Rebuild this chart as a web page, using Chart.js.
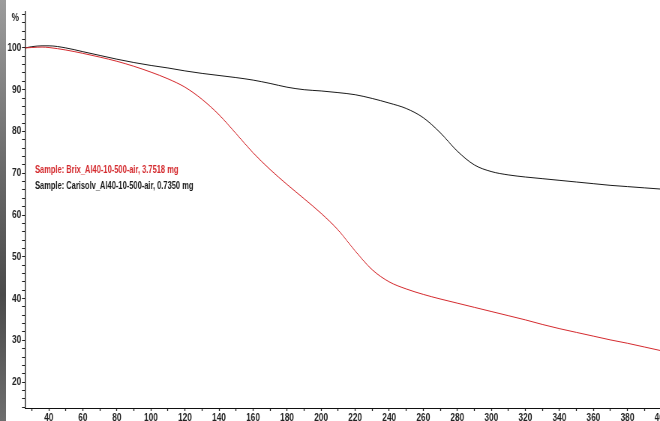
<!DOCTYPE html>
<html>
<head>
<meta charset="utf-8">
<script src="https://cdn.jsdelivr.net/npm/chart.js@4/dist/chart.umd.min.js"></script>
<style>
  html, body { margin: 0; padding: 0; background: #fff; overflow: hidden; width: 660px; height: 421px; }
  #wrap { position: absolute; left: 0; top: 0; width: 882px; height: 421px; transform: scaleX(0.75); transform-origin: 0 0; }
  #bar { position: absolute; left: 0; top: 0; width: 6px; height: 421px;
         background: linear-gradient(to bottom, #9c9c9c 0%, #6a6a6a 40%, #4a4a4a 70%, #6e6e6e 100%); z-index: 2; }
</style>
</head>
<body>
<div id="wrap"><canvas id="c" width="882" height="421"></canvas></div>
<div id="bar"></div>
<script>
const temperatures = [26,30,36,40,50,60,70,80,90,100,110,120,130,140,150,160,170,180,190,200,210,220,230,240,250,260,270,280,290,300,310,320,330,340,350,360,370,380,390,400];
const brixMass = [100.0,100.1,100.2,100.1,99.5,98.7,97.8,96.8,95.6,94.2,92.6,90.6,87.7,84.0,79.5,74.9,70.9,67.3,63.9,60.4,56.4,51.4,46.9,44.0,42.3,41.0,39.9,38.9,37.9,36.9,35.9,34.9,33.8,32.8,31.9,31.0,30.1,29.3,28.4,27.5];
const carisolvMass = [100.0,100.3,100.5,100.5,100.0,99.1,98.2,97.3,96.5,95.8,95.2,94.5,93.9,93.4,92.9,92.3,91.5,90.6,90.0,89.7,89.3,88.8,87.9,86.8,85.5,83.3,79.7,75.3,72.0,70.4,69.6,69.1,68.7,68.3,67.9,67.5,67.1,66.8,66.5,66.2];
const seriesLabels = ["Sample: Brix_Al40-10-500-air, 3.7518 mg", "Sample: Carisolv_Al40-10-500-air, 0.7350 mg"];
const xTickValues = [30,40,50,60,70,80,90,100,110,120,130,140,150,160,170,180,190,200,210,220,230,240,250,260,270,280,290,300,310,320,330,340,350,360,370,380,390,400];
const xLabelValues = [40,60,80,100,120,140,160,180,200,220,240,260,280,300,320,340,360,380,400];
const yTickValues = [14,16,18,20,22,24,26,28,30,32,34,36,38,40,42,44,46,48,50,52,54,56,58,60,62,64,66,68,70,72,74,76,78,80,82,84,86,88,90,92,94,96,98,100,102,104,106,108];
const yLabelValues = [20,30,40,50,60,70,80,90,100];
const yUnit = "%";

const SX = 0.75; // horizontal condensing of the whole canvas (narrow font look)
const FONT = "'Liberation Sans', Arial, sans-serif";

const toPts = (vals) => temperatures.map((t, i) => ({ x: t, y: vals[i] }));

const overlay = {
  id: 'overlay',
  afterDraw(chart) {
    const ctx = chart.ctx;
    const ys = chart.scales.y;
    const area = chart.chartArea;
    ctx.save();
    ctx.font = "bold 10px " + FONT;
    ctx.textBaseline = 'middle';
    ctx.textAlign = 'left';
    const baseY = ys.getPixelForValue(70);
    chart.data.datasets.forEach((ds, i) => {
      ctx.fillStyle = ds.borderColor;
      ctx.fillText(ds.label, area.left + 10 / SX, baseY - 3 + i * 16);
    });
    ctx.font = "bold 11px " + FONT;
    ctx.fillStyle = '#222';
    ctx.textAlign = 'right';
    ctx.fillText(yUnit, area.left - 6 / SX, ys.getPixelForValue(107.2));
    ctx.restore();
  }
};

new Chart(document.getElementById('c'), {
  type: 'line',
  data: {
    datasets: [
      { label: seriesLabels[0], data: toPts(brixMass), borderColor: '#d42a2e', borderWidth: 1, pointRadius: 0, cubicInterpolationMode: 'monotone', fill: false },
      { label: seriesLabels[1], data: toPts(carisolvMass), borderColor: '#1a1a1a', borderWidth: 1, pointRadius: 0, cubicInterpolationMode: 'monotone', fill: false }
    ]
  },
  options: {
    responsive: false,
    animation: false,
    layout: { padding: { top: 12, right: 0, bottom: 0, left: 0 } },
    plugins: { legend: { display: false }, tooltip: { enabled: false } },
    scales: {
      x: {
        type: 'linear',
        min: 26, max: 400,
        afterBuildTicks(s) { s.ticks = xTickValues.map(v => ({ value: v })); },
        afterFit(s) { s.height = 13; s.paddingLeft = 0; s.paddingRight = 0; },
        grid: { drawOnChartArea: false, drawTicks: true, tickLength: 3, tickColor: '#222', tickWidth: 1.3 },
        border: { color: '#111', width: 1 },
        ticks: {
          autoSkip: false, maxRotation: 0, padding: 0,
          color: '#222', font: { family: FONT, size: 11, weight: 'bold' },
          callback: (v) => xLabelValues.includes(v) ? String(v) : ''
        }
      },
      y: {
        type: 'linear',
        min: 13.8, max: 108.6,
        afterBuildTicks(s) { s.ticks = yTickValues.map(v => ({ value: v })); },
        afterFit(s) { s.width = 25 / SX; s.paddingTop = 0; s.paddingBottom = 0; },
        grid: { drawOnChartArea: false, drawTicks: true, tickLength: 3 / SX, tickColor: '#222' },
        border: { color: '#111', width: 1.3 },
        ticks: {
          autoSkip: false, padding: 1,
          color: '#222', font: { family: FONT, size: 11, weight: 'bold' },
          callback: (v) => yLabelValues.includes(v) ? String(v) : ''
        }
      }
    }
  },
  plugins: [overlay]
});
</script>
</body>
</html>
